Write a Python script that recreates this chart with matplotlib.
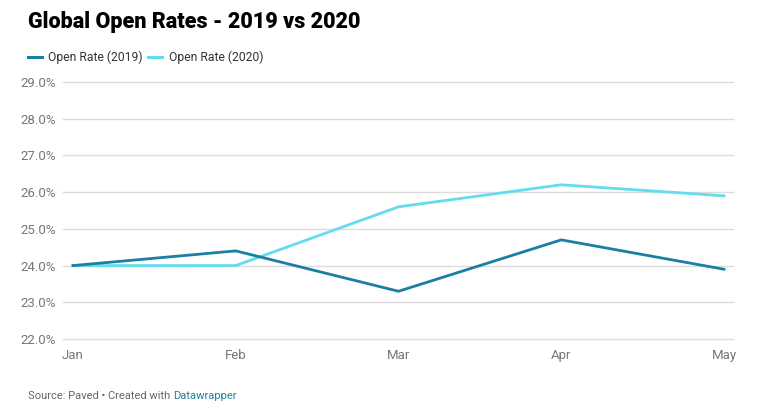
import matplotlib
matplotlib.use("Agg")
import matplotlib.pyplot as plt

months = ["Jan", "Feb", "Mar", "Apr", "May"]
open_2019 = [24.0, 24.4, 23.3, 24.7, 23.9]
open_2020 = [24.0, 24.0, 25.6, 26.2, 25.9]
y_ticks = [22, 23, 24, 25, 26, 27, 28, 29]

c2019 = "#1a7fa3"
c2020 = "#62dcee"

plt.rcParams['font.family'] = ['Roboto', 'DejaVu Sans']

fig = plt.figure(figsize=(7.66, 4.11), dpi=100)
W, H = 766, 411
ax = fig.add_axes([63 / W, 1 - 339 / H, (733 - 63) / W, (339 - 82) / H])

x = list(range(len(months)))
ax.plot(x, open_2019, color=c2019, lw=2.0, solid_joinstyle='miter', zorder=3)
ax.plot(x, open_2020, color=c2020, lw=2.0, solid_joinstyle='miter', zorder=2)

unit = 163.0
ax.set_xlim(-(73 - 63) / unit, 4 + (733 - 724) / unit)
ax.set_ylim(22, 29)
ax.set_yticks(y_ticks)
ax.set_yticklabels([f"{v:.1f}%" for v in y_ticks])
ax.set_xticks(x)
ax.set_xticklabels(months)
for v in y_ticks:
    ax.axhline(v, color="#dcdcdc", lw=1.0, zorder=1, clip_on=False)
for s in ax.spines.values():
    s.set_visible(False)
ax.tick_params(axis='both', length=0, labelsize=9.5, labelcolor="#777777")
ax.tick_params(axis='y', pad=5)
ax.tick_params(axis='x', pad=7)

fig.text(28 / W, 1 - 22 / H, "Global Open Rates - 2019 vs 2020", fontsize=15.5,
         fontweight='black', color="#000000", va='center', ha='left')

# legend
ly = 1 - 57 / H
fig.add_artist(plt.Line2D([28 / W, 42 / W], [ly, ly], color=c2019, lw=2.2))
fig.text(48 / W, ly, "Open Rate (2019)", fontsize=8.7, color="#333333", va='center', ha='left')
fig.add_artist(plt.Line2D([148 / W, 162 / W], [ly, ly], color=c2020, lw=2.2))
fig.text(169 / W, ly, "Open Rate (2020)", fontsize=8.7, color="#333333", va='center', ha='left')

# footer
fy = 1 - 396 / H
t1 = fig.text(28 / W, fy, "Source: Paved \u2022 Created with ", fontsize=8,
              color="#666666", va='center', ha='left')
fig.canvas.draw()
bb = t1.get_window_extent()
fig.text(bb.x1 / (W), fy, "Datawrapper", fontsize=8, color="#1d81a2", va='center', ha='left')

fig.savefig("out.png", dpi=100, facecolor="white")
